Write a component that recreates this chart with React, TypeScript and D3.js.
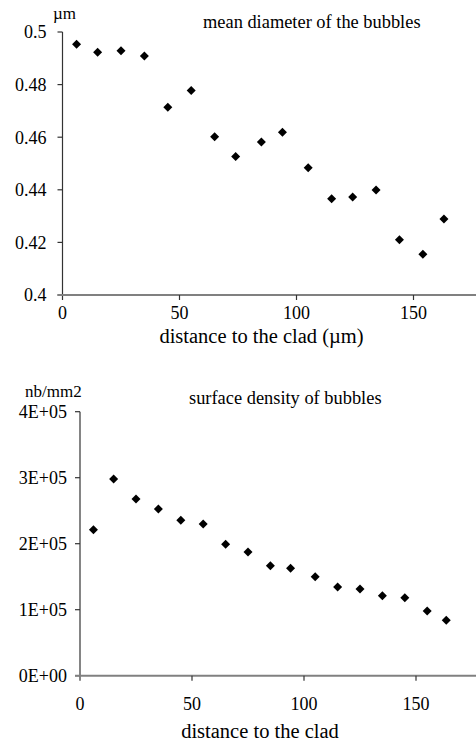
import React from "react";
import * as d3 from "d3";

// Top chart: mean diameter of the bubbles (µm)
const distTop = [6, 15, 25, 35, 45, 55, 65, 74, 85, 94, 105, 115, 124, 134, 144, 154, 163];
const diameter = [0.4953, 0.4923, 0.4929, 0.4909, 0.4714, 0.4778, 0.4602, 0.4527, 0.4582, 0.4619, 0.4484, 0.4366, 0.4373, 0.4399, 0.421, 0.4155, 0.4289];
const topXTicks = [0, 50, 100, 150];
const topYTicks = [0.4, 0.42, 0.44, 0.46, 0.48, 0.5];

// Bottom chart: surface density of bubbles (nb/mm2)
const distBottom = [6, 15, 25, 35, 45, 55, 65, 75, 85, 94, 105, 115, 125, 135, 145, 155, 163.5];
const density = [221000, 298000, 267700, 252600, 235500, 229800, 199100, 187400, 166700, 162700, 150000, 134400, 131400, 121200, 118200, 98000, 83900];
const bottomXTicks = [0, 50, 100, 150];
const bottomYTicks = [0, 100000, 200000, 300000, 400000];
const bottomYLabels = ["0E+00", "1E+05", "2E+05", "3E+05", "4E+05"];

const FONT = "'Liberation Serif', 'Times New Roman', serif";

const diamond = d3.symbol(d3.symbolSquare, 40.5)();

type PanelProps = {
  xs: number[];
  ys: number[];
  xScale: d3.ScaleLinear<number, number>;
  yScale: d3.ScaleLinear<number, number>;
  xTicks: number[];
  yTicks: number[];
  yLabels: string[];
  labelGap: number;
  title: string;
  titleX: number;
  titleY: number;
  unit: string;
  unitX: number;
  unitY: number;
  xTitle: string;
  xTitleX: number;
  xTitleY: number;
  xLabelY: number;
};

function Panel(p: PanelProps) {
  const [x0] = p.xScale.range();
  const [y0] = p.yScale.range();
  const yTop = p.yScale.range()[1];
  return (
    <g fontFamily={FONT} fill="#000">
      {/* y axis */}
      <line x1={x0} x2={x0} y1={yTop} y2={y0 + 5} stroke="#333" strokeWidth={1.2} />
      {p.yTicks.map((t, i) => (
        <g key={"y" + i}>
          <line x1={x0 - 5} x2={x0} y1={p.yScale(t)} y2={p.yScale(t)} stroke="#333" strokeWidth={1.2} />
          <text x={x0 - p.labelGap} y={p.yScale(t)} dy="0.35em" textAnchor="end" fontSize={18}>
            {p.yLabels[i]}
          </text>
        </g>
      ))}
      {/* x axis */}
      <line x1={x0 - 5} x2={476} y1={y0} y2={y0} stroke="#808080" strokeWidth={2} />
      {p.xTicks.map((t, i) => (
        <g key={"x" + i}>
          {t !== 0 && (
            <line x1={p.xScale(t)} x2={p.xScale(t)} y1={y0} y2={y0 + 5} stroke="#333" strokeWidth={1.2} />
          )}
          <text x={p.xScale(t)} y={p.xLabelY} textAnchor="middle" fontSize={18}>
            {t}
          </text>
        </g>
      ))}
      {/* points */}
      {p.xs.map((v, i) => (
        <path
          key={"p" + i}
          d={diamond as string}
          transform={`translate(${p.xScale(v)},${p.yScale(p.ys[i])}) rotate(45)`}
          fill="#000"
        />
      ))}
      <text x={p.titleX} y={p.titleY} fontSize={18.4}>
        {p.title}
      </text>
      <text x={p.unitX} y={p.unitY} fontSize={17}>
        {p.unit}
      </text>
      <text x={p.xTitleX} y={p.xTitleY} textAnchor="middle" fontSize={20.5}>
        {p.xTitle}
      </text>
    </g>
  );
}

export default function App() {
  const xTop = d3.scaleLinear().domain([0, 180]).range([62.5, 62.5 + 180 * 2.34]);
  const yTopS = d3.scaleLinear().domain([0.4, 0.5]).range([295, 32]);
  const xBot = d3.scaleLinear().domain([0, 180]).range([80, 80 + 180 * 2.24]);
  const yBotS = d3.scaleLinear().domain([0, 400000]).range([675.7, 411.7]);

  return (
    <div style={{ position: "absolute", left: 0, top: 0 }}>
      <svg width={476} height={742} style={{ display: "block", background: "#fff" }}>
        <rect width={476} height={742} fill="#fff" />
        <Panel
          xs={distTop}
          ys={diameter}
          xScale={xTop}
          yScale={yTopS}
          xTicks={topXTicks}
          yTicks={topYTicks}
          yLabels={topYTicks.map((v) => String(+v.toFixed(2)))}
          labelGap={16}
          title="mean diameter of the bubbles"
          titleX={203}
          titleY={28}
          unit="µm"
          unitX={53}
          unitY={19}
          xTitle="distance to the clad (µm)"
          xTitleX={261.5}
          xTitleY={343}
          xLabelY={319}
        />
        <Panel
          xs={distBottom}
          ys={density}
          xScale={xBot}
          yScale={yBotS}
          xTicks={bottomXTicks}
          yTicks={bottomYTicks}
          yLabels={bottomYLabels}
          labelGap={13}
          title="surface density of bubbles"
          titleX={189}
          titleY={404}
          unit="nb/mm2"
          unitX={25}
          unitY={397}
          xTitle="distance to the clad"
          xTitleX={260}
          xTitleY={738}
          xLabelY={710}
        />
      </svg>
    </div>
  );
}
